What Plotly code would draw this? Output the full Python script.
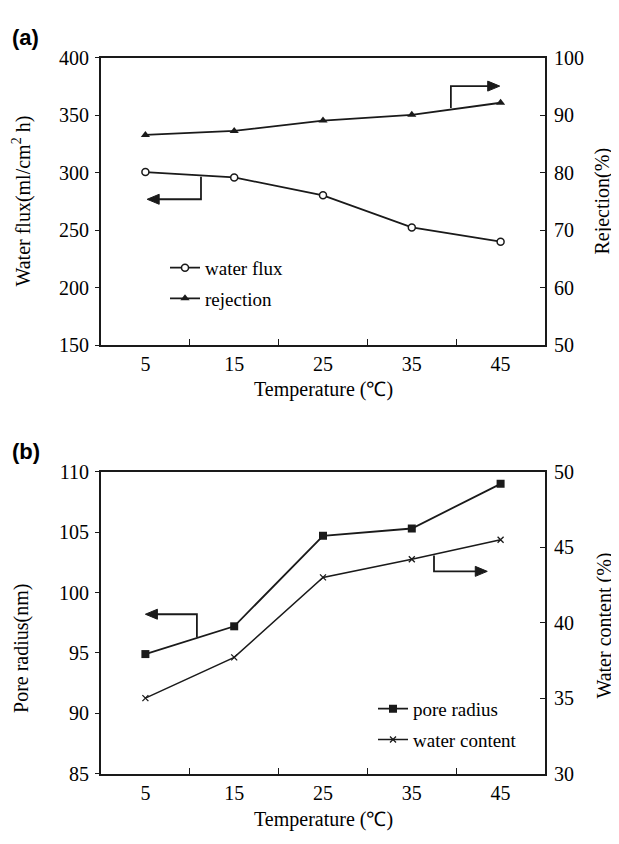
import plotly.graph_objects as go

# ---- data ----
temps = [5, 15, 25, 35, 45]
temp_labels = ["5", "15", "25", "35", "45"]
water_flux = [300.7, 296.0, 280.4, 252.5, 240.1]
rejection = [86.6, 87.3, 89.1, 90.1, 92.2]
pore_radius = [94.9, 97.2, 104.7, 105.3, 109.0]
water_content = [35.0, 37.7, 43.0, 44.2, 45.5]

# page body has an 8px margin, so the figure is placed at (8, 8)
OFF = 8
W, H = 619 - OFF, 844 - OFF
SERIF = "Liberation Serif"
BLK = "#1a1a1a"

def px_x(p):
    return (p - OFF) / W

def px_y(p):
    return 1 - (p - OFF) / H

xdom = [px_x(101), px_x(545)]
ydom_a = [px_y(343), px_y(48)]
ydom_b = [px_y(783), px_y(473)]

fig = go.Figure()

line = dict(color=BLK, width=1.8)
fig.add_trace(go.Scatter(x=temps, y=water_flux, name="water flux", mode="lines+markers",
                         line=line, xaxis="x", yaxis="y", legend="legend", legendgroup="a1",
                         marker=dict(symbol="circle", size=7, color="white",
                                     line=dict(color=BLK, width=1.5))))
fig.add_trace(go.Scatter(x=temps, y=rejection, name="rejection", mode="lines+markers",
                         line=line, xaxis="x", yaxis="y2", legend="legend", legendgroup="a2",
                         marker=dict(symbol="triangle-up", size=8, color=BLK)))
fig.add_trace(go.Scatter(x=temps, y=pore_radius, name="pore radius", mode="lines+markers",
                         line=line, xaxis="x2", yaxis="y3", legend="legend2", legendgroup="b1",
                         marker=dict(symbol="square", size=8, color=BLK)))
fig.add_trace(go.Scatter(x=temps, y=water_content, name="water content", mode="lines+markers",
                         line=dict(color=BLK, width=1.5), xaxis="x2", yaxis="y4",
                         legend="legend2", legendgroup="b2",
                         marker=dict(symbol="x-thin", size=6, color=BLK,
                                     line=dict(color=BLK, width=1.3))))

tickfont = dict(family=SERIF, size=20, color="black")

def xaxis(anchor):
    return dict(domain=xdom, anchor=anchor, range=[0, 50], tickmode="array",
                tickvals=temps, ticktext=temp_labels, ticks="", showgrid=False,
                zeroline=False, showline=True, linecolor=BLK, linewidth=1.8, mirror=True,
                tickfont=tickfont, ticklabelstandoff=0,
                minor=dict(tickmode="array", tickvals=[10, 20, 30, 40], ticks="inside",
                           ticklen=6, tickwidth=1, tickcolor=BLK, showgrid=False))

def yleft(dom, rng, dt, anchor):
    return dict(domain=dom, anchor=anchor, range=rng, dtick=dt, ticks="outside", ticklen=4,
                tickwidth=1, tickcolor=BLK, showgrid=False, zeroline=False, showline=True,
                linecolor=BLK, linewidth=1.8, tickfont=tickfont, ticklabelstandoff=2)

def yright(over, rng, dt, anchor):
    return dict(overlaying=over, side="right", anchor=anchor, range=rng, dtick=dt,
                ticks="inside", ticklen=5, tickwidth=1, tickcolor=BLK, showgrid=False,
                zeroline=False, showline=True, linecolor=BLK, linewidth=1.8,
                tickfont=tickfont, ticklabelstandoff=3)

fig.update_layout(
    width=W, height=H, margin=dict(l=0, r=0, t=0, b=0),
    paper_bgcolor="white", plot_bgcolor="white",
    font=dict(family=SERIF, size=19, color="black"),
    xaxis=xaxis("y"), yaxis=yleft(ydom_a, [150, 400], 50, "x"),
    yaxis2=yright("y", [50, 100], 10, "x"),
    xaxis2=xaxis("y3"), yaxis3=yleft(ydom_b, [85, 110], 5, "x2"),
    yaxis4=yright("y3", [30, 50], 5, "x2"),
    legend=dict(x=px_x(165), y=px_y(244), xanchor="left", yanchor="top",
                bgcolor="rgba(0,0,0,0)", font=dict(family=SERIF, size=19),
                tracegroupgap=3, traceorder="grouped"),
    legend2=dict(x=px_x(373), y=px_y(697), xanchor="left", yanchor="top",
                 bgcolor="rgba(0,0,0,0)", font=dict(family=SERIF, size=19),
                 tracegroupgap=3, traceorder="grouped"),
    showlegend=True,
)

# bracket arrows: (xref, yref, bracket x, y on curve, y of arrow, arrow tip x)
brackets = [
    ("x", "y", 11.26, 296.6, 277.0, 5.2),
    ("x", "y2", 39.4, 91.3, 95.1, 44.9),
    ("x2", "y3", 10.8, 96.3, 98.2, 5.0),
    ("x2", "y4", 37.5, 44.45, 43.4, 43.5),
]
shapes = []
for xr, yr, xb, y0, y1, xt in brackets:
    direction = -1 if xt < xb else 1
    shapes.append(dict(type="path", xref=xr, yref=yr,
                       path="M%s,%s L%s,%s L%s,%s" % (xb, y0, xb, y1, xt - direction * 0.6, y1),
                       line=dict(color=BLK, width=1.8)))
    back = -direction * 12
    shapes.append(dict(type="path", xref=xr, yref=yr, xsizemode="pixel", ysizemode="pixel",
                       xanchor=xt, yanchor=y1,
                       path="M0,0 L%d,5 L%d,-5 Z" % (back, back),
                       fillcolor=BLK, line=dict(color=BLK, width=1)))
fig.update_layout(shapes=shapes)

title_font = dict(family=SERIF, size=20, color="black")
texts = [
    ("Water flux(ml/cm<sup>2</sup> h)", 22, 195.5, -90),
    ("Rejection(%)", 603, 195.5, -90),
    ("Temperature (℃)", 323, 388, 0),
    ("Pore radius(nm)", 22, 655, -90),
    ("Water content (%)", 605, 631, -90),
    ("Temperature (℃)", 323, 830, 0),
]
for t, x, y, ang in texts:
    fig.add_annotation(text=t, x=px_x(x), y=px_y(y), xref="paper", yref="paper",
                       showarrow=False, textangle=ang, xanchor="center", yanchor="middle",
                       font=title_font)

for t, y in [("(a)", 27), ("(b)", 452)]:
    fig.add_annotation(text="<b>%s</b>" % t, x=px_x(10), y=px_y(y), xref="paper",
                       yref="paper", showarrow=False, xanchor="left", yanchor="middle",
                       font=dict(family="Liberation Sans", size=22, color="black"))

fig.write_html("out.html")
